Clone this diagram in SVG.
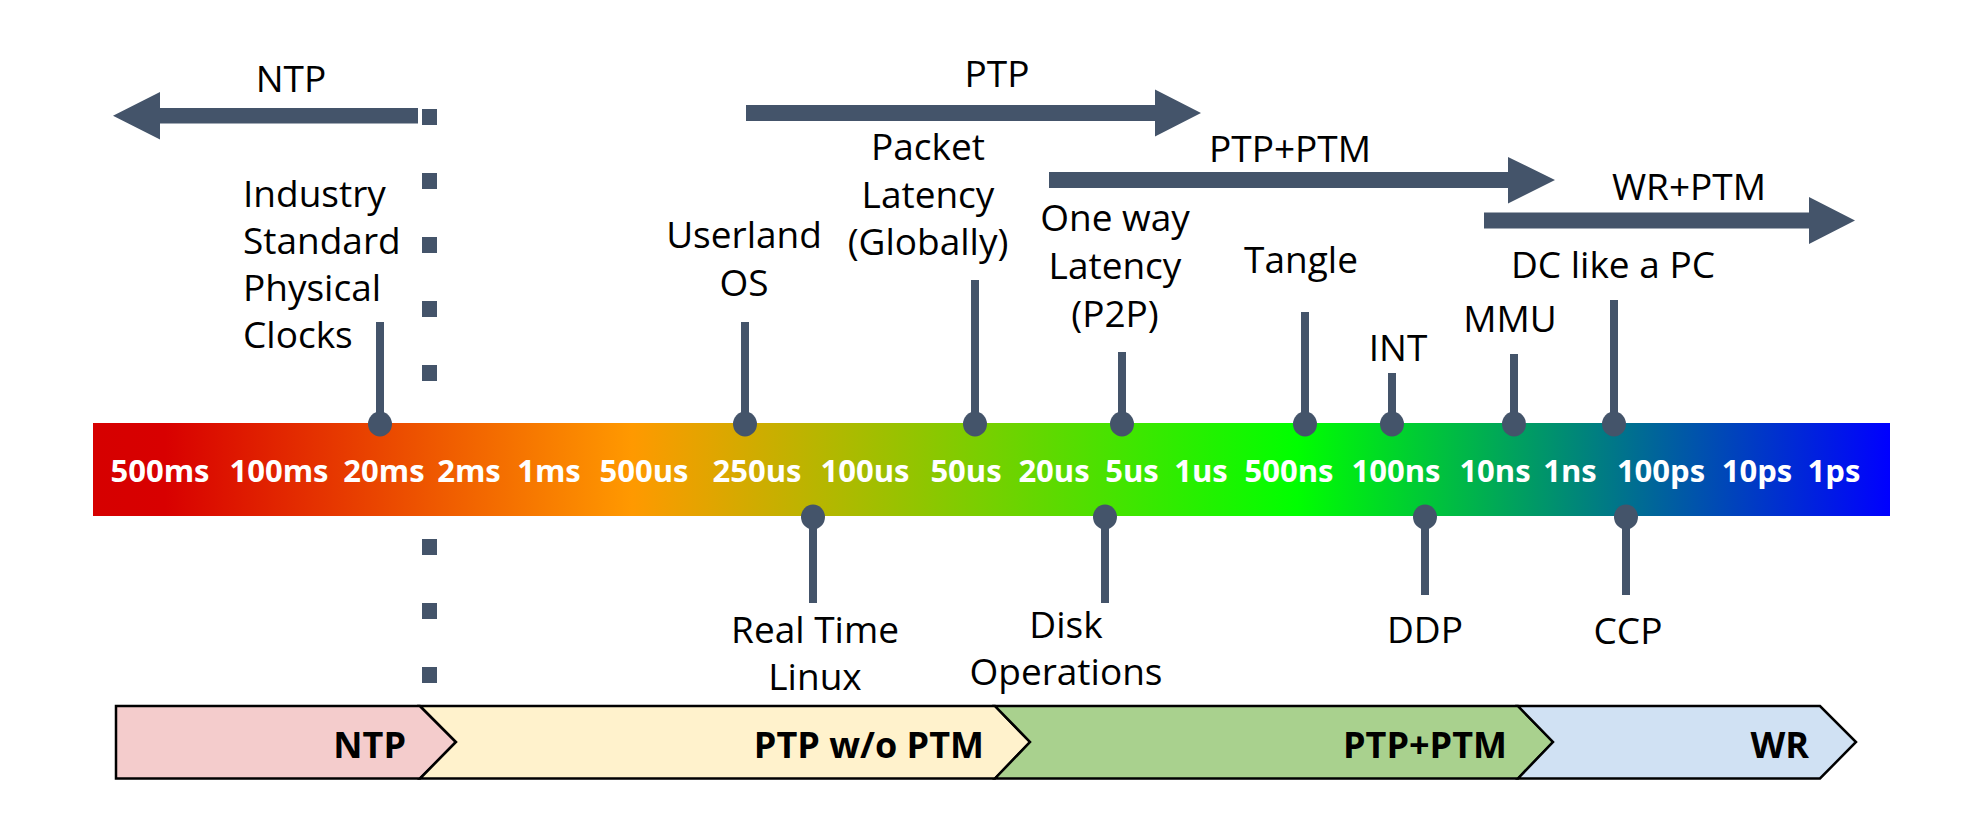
<svg xmlns="http://www.w3.org/2000/svg" width="1968" height="830" viewBox="0 0 1968 830">
<defs>
<linearGradient id="scale" x1="0" y1="0" x2="1" y2="0">
<stop offset="0" stop-color="#D60000"/>
<stop offset="0.04" stop-color="#D80000"/>
<stop offset="0.30" stop-color="#FF9900"/>
<stop offset="0.67" stop-color="#00FF00"/>
<stop offset="1" stop-color="#0000FF"/>
</linearGradient>
<style>
.lbl{font-family:"Open Sans","Liberation Sans",sans-serif;font-size:37px;fill:#000;text-anchor:middle}
.left{text-anchor:start}
.tick{font-family:"Open Sans","Liberation Sans",sans-serif;font-size:31px;font-weight:700;fill:#fff;text-anchor:middle}
.seg{font-family:"Open Sans","Liberation Sans",sans-serif;font-size:36px;font-weight:700;fill:#000;text-anchor:end}
.arrow{fill:#44546A}
.pin{stroke:#44546A;stroke-width:8;fill:none}
.dot{fill:#44546A}
.sq{fill:#44546A}
.chev{stroke:#000;stroke-width:2.5;stroke-linejoin:miter}
</style>
</defs>
<rect width="1968" height="830" fill="#fff"/>

<g id="divider">
<rect class="sq" x="422" y="109" width="15" height="16"/>
<rect class="sq" x="422" y="173" width="15" height="16"/>
<rect class="sq" x="422" y="237" width="15" height="16"/>
<rect class="sq" x="422" y="301" width="15" height="16"/>
<rect class="sq" x="422" y="365" width="15" height="16"/>
<rect class="sq" x="422" y="539" width="15" height="16"/>
<rect class="sq" x="422" y="603" width="15" height="16"/>
<rect class="sq" x="422" y="667" width="15" height="16"/>
</g>

<g id="arrow-ntp">
<polygon class="arrow" points="418,108 160,108 160,92 113,115.7 160,139.5 160,123.5 418,123.5"/>
<text class="lbl" x="291" y="92">NTP</text>
</g>
<g id="arrow-ptp">
<polygon class="arrow" points="746,105 1155,105 1155,89.5 1201,113 1155,136.5 1155,121 746,121"/>
<text class="lbl" x="997" y="87">PTP</text>
</g>
<g id="arrow-ptp-ptm">
<polygon class="arrow" points="1049,172 1508,172 1508,157 1555,180 1508,203.5 1508,188 1049,188"/>
<text class="lbl" x="1290" y="162">PTP+PTM</text>
</g>
<g id="arrow-wr-ptm">
<polygon class="arrow" points="1484,212.5 1809,212.5 1809,197 1855,220.5 1809,244 1809,228.5 1484,228.5"/>
<text class="lbl" x="1689" y="200">WR+PTM</text>
</g>

<g id="scale-bar">
<rect x="93" y="423" width="1797" height="93" fill="url(#scale)"/>
<text class="tick" x="160" y="482">500ms</text>
<text class="tick" x="279" y="482">100ms</text>
<text class="tick" x="384" y="482">20ms</text>
<text class="tick" x="469" y="482">2ms</text>
<text class="tick" x="549" y="482">1ms</text>
<text class="tick" x="644" y="482">500us</text>
<text class="tick" x="757" y="482">250us</text>
<text class="tick" x="865" y="482">100us</text>
<text class="tick" x="966" y="482">50us</text>
<text class="tick" x="1054" y="482">20us</text>
<text class="tick" x="1132" y="482">5us</text>
<text class="tick" x="1201" y="482">1us</text>
<text class="tick" x="1289" y="482">500ns</text>
<text class="tick" x="1396" y="482">100ns</text>
<text class="tick" x="1495" y="482">10ns</text>
<text class="tick" x="1570" y="482">1ns</text>
<text class="tick" x="1661" y="482">100ps</text>
<text class="tick" x="1757" y="482">10ps</text>
<text class="tick" x="1834" y="482">1ps</text>
</g>

<g id="connectors">
<line class="pin" x1="380" y1="322" x2="380" y2="424"/><ellipse class="dot" cx="380" cy="424" rx="12" ry="12.5"/>
<line class="pin" x1="745" y1="322" x2="745" y2="424"/><ellipse class="dot" cx="745" cy="424" rx="12" ry="12.5"/>
<line class="pin" x1="975" y1="280" x2="975" y2="424"/><ellipse class="dot" cx="975" cy="424" rx="12" ry="12.5"/>
<line class="pin" x1="1122" y1="352" x2="1122" y2="424"/><ellipse class="dot" cx="1122" cy="424" rx="12" ry="12.5"/>
<line class="pin" x1="1305" y1="312" x2="1305" y2="424"/><ellipse class="dot" cx="1305" cy="424" rx="12" ry="12.5"/>
<line class="pin" x1="1392" y1="373" x2="1392" y2="424"/><ellipse class="dot" cx="1392" cy="424" rx="12" ry="12.5"/>
<line class="pin" x1="1514" y1="354" x2="1514" y2="424"/><ellipse class="dot" cx="1514" cy="424" rx="12" ry="12.5"/>
<line class="pin" x1="1614" y1="300" x2="1614" y2="424"/><ellipse class="dot" cx="1614" cy="424" rx="12" ry="12.5"/>
<line class="pin" x1="813" y1="517" x2="813" y2="603"/><ellipse class="dot" cx="813" cy="517" rx="12" ry="12.5"/>
<line class="pin" x1="1105" y1="517" x2="1105" y2="603"/><ellipse class="dot" cx="1105" cy="517" rx="12" ry="12.5"/>
<line class="pin" x1="1425" y1="517" x2="1425" y2="595"/><ellipse class="dot" cx="1425" cy="517" rx="12" ry="12.5"/>
<line class="pin" x1="1626" y1="517" x2="1626" y2="595"/><ellipse class="dot" cx="1626" cy="517" rx="12" ry="12.5"/>
</g>

<g id="node-industry">
<text class="lbl left" x="243" y="207">Industry</text>
<text class="lbl left" x="243" y="254">Standard</text>
<text class="lbl left" x="243" y="301">Physical</text>
<text class="lbl left" x="243" y="348">Clocks</text>
</g>
<g id="node-userland">
<text class="lbl" x="744" y="248">Userland</text>
<text class="lbl" x="744" y="296">OS</text>
</g>
<g id="node-packet-latency">
<text class="lbl" x="928" y="160">Packet</text>
<text class="lbl" x="928" y="208">Latency</text>
<text class="lbl" x="928" y="255">(Globally)</text>
</g>
<g id="node-one-way">
<text class="lbl" x="1115" y="231">One way</text>
<text class="lbl" x="1115" y="279">Latency</text>
<text class="lbl" x="1115" y="327">(P2P)</text>
</g>
<g id="node-tangle"><text class="lbl" x="1301" y="273">Tangle</text></g>
<g id="node-int"><text class="lbl" x="1398" y="361">INT</text></g>
<g id="node-mmu"><text class="lbl" x="1510" y="332">MMU</text></g>
<g id="node-dc"><text class="lbl" x="1613" y="278">DC like a PC</text></g>
<g id="node-rtlinux">
<text class="lbl" x="815" y="643">Real Time</text>
<text class="lbl" x="815" y="690">Linux</text>
</g>
<g id="node-disk">
<text class="lbl" x="1066" y="638">Disk</text>
<text class="lbl" x="1066" y="685">Operations</text>
</g>
<g id="node-ddp"><text class="lbl" x="1425" y="643">DDP</text></g>
<g id="node-ccp"><text class="lbl" x="1628" y="644">CCP</text></g>

<g id="band-ntp">
<polygon class="chev" fill="#F4CCCC" points="116,706 420,706 456,742 420,778.5 116,778.5"/>
<text class="seg" x="406" y="758">NTP</text>
</g>
<g id="band-ptp">
<polygon class="chev" fill="#FFF2CC" points="420,706 995,706 1030,742 995,778.5 420,778.5 456,742"/>
<text class="seg" x="984" y="758">PTP w/o PTM</text>
</g>
<g id="band-ptp-ptm">
<polygon class="chev" fill="#A9D18E" points="995,706 1518,706 1553,742 1518,778.5 995,778.5 1030,742"/>
<text class="seg" x="1507" y="758">PTP+PTM</text>
</g>
<g id="band-wr">
<polygon class="chev" fill="#D0E1F3" points="1518,706 1820,706 1856,742 1820,778.5 1518,778.5 1553,742"/>
<text class="seg" x="1809" y="758">WR</text>
</g>
</svg>
